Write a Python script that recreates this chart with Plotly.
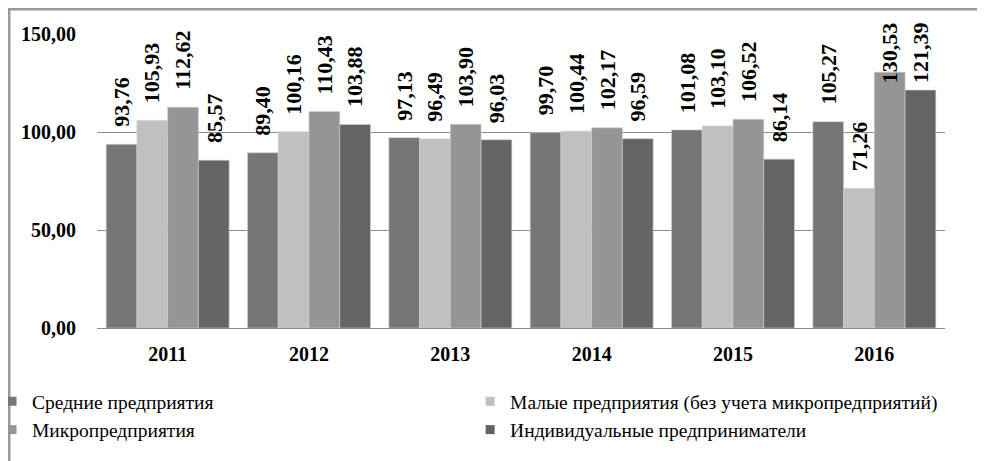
import plotly.graph_objects as go

years = ["2011", "2012", "2013", "2014", "2015", "2016"]
series_names = [
    "Средние предприятия",
    "Малые предприятия (без учета микропредприятий)",
    "Микропредприятия",
    "Индивидуальные предприниматели",
]
medium = [93.76, 89.40, 97.13, 99.70, 101.08, 105.27]
small = [105.93, 100.16, 96.49, 100.44, 103.10, 71.26]
micro = [112.62, 110.43, 103.90, 102.17, 106.52, 130.53]
individual = [85.57, 103.88, 96.03, 96.59, 86.14, 121.39]
y_ticks = [0, 50, 100, 150]
y_tick_labels = ["0,00", "50,00", "100,00", "150,00"]

colors = ["#767676", "#c0c0c0", "#959595", "#646464"]
legend_ids = ["legend", "legend2", "legend", "legend2"]
values = [medium, small, micro, individual]
FONT = "Liberation Serif"
BARGAP = 0.13
Y_MAX = 150
PLOT_H = 294  # px height of plot area
LABEL_LEN = 62  # approx px length of a rotated value label
LABEL_GAP = 15

def fmt(v):
    return f"{v:.2f}".replace(".", ",")

fig = go.Figure()
n = len(values)
bar_w = (1 - BARGAP) / n
for k, (name, vals, col, lg) in enumerate(zip(series_names, values, colors, legend_ids)):
    fig.add_trace(go.Bar(
        x=years, y=vals, name=name, showlegend=False,
        marker=dict(color=col, line=dict(color="#d0d0d0", width=0.6)),
        hoverinfo="skip",
    ))
    fig.add_trace(go.Scatter(
        x=[None], y=[None], mode="markers", name=name, legend=lg,
        marker=dict(symbol="square", size=9, color=col),
    ))
    off = (k - (n - 1) / 2) * bar_w
    for i, v in enumerate(vals):
        top_px = v / Y_MAX * PLOT_H + LABEL_GAP + LABEL_LEN
        lab_font = dict(family=FONT, size=22, color="black")
        if top_px > PLOT_H + 17:
            # not enough room above: pin label under the frame top, as in the source
            fig.add_annotation(
                x=i + off, y=Y_MAX, xref="x", yref="y", text=f"<b>{fmt(v)}</b>",
                textangle=-90, showarrow=False, xanchor="center",
                yanchor="top", yshift=14, font=lab_font,
            )
        else:
            fig.add_annotation(
                x=i + off, y=v, xref="x", yref="y", text=f"<b>{fmt(v)}</b>",
                textangle=-90, showarrow=False, xanchor="center",
                yanchor="bottom", yshift=LABEL_GAP, font=lab_font,
            )

legend_common = dict(
    orientation="v", xanchor="left", y=-0.184, yanchor="top",
    itemwidth=30, bgcolor="rgba(0,0,0,0)",
    font=dict(family=FONT, size=19.5, color="black"),
    tracegroupgap=0, traceorder="normal",
)
fig.update_layout(
    width=977, height=453,
    margin=dict(l=89, r=40, t=26, b=133, autoexpand=False),
    paper_bgcolor="white", plot_bgcolor="white",
    barmode="group", bargap=BARGAP, bargroupgap=0,
    font=dict(family=FONT, color="black"),
    showlegend=True,
    legend=dict(x=-0.1238, **legend_common),
    legend2=dict(x=0.44, **legend_common),
)
fig.update_xaxes(
    showgrid=False, showline=False, ticks="", automargin=False,
    tickvals=years, ticktext=[f"<b>{y}</b>" for y in years],
    ticklabelstandoff=12,
    tickfont=dict(family=FONT, size=20, color="black"),
)
fig.update_yaxes(
    range=[0, Y_MAX], tickvals=y_ticks, ticktext=[f"<b>{t}</b>" for t in y_tick_labels],
    showgrid=True, gridcolor="#8c8c8c", gridwidth=1,
    zeroline=True, zerolinecolor="#8c8c8c", zerolinewidth=1,
    showline=False, ticks="", ticklabelstandoff=20, automargin=False,
    tickfont=dict(family=FONT, size=20, color="black"),
)
fig.add_shape(type="rect", xref="paper", yref="paper",
              x0=-0.1038, x1=1.2, y0=-0.5, y1=1.085,
              line=dict(color="#999999", width=3), layer="below")

fig.write_html("out.html")
